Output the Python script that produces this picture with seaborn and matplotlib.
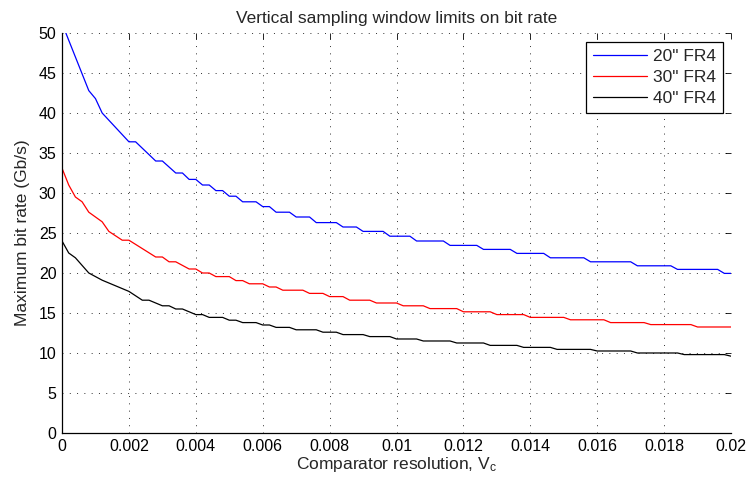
import matplotlib
matplotlib.use("Agg")
import matplotlib.pyplot as plt
import seaborn as sns
import pandas as pd

# Vertices of each bit-rate curve (comparator resolution in V, bit rate in Gb/s)
fr4_20_x = [0, 0.0008, 0.001, 0.0012, 0.002, 0.0022, 0.0028, 0.003, 0.0034, 0.0036,
            0.0038, 0.004, 0.0042, 0.0044, 0.0046, 0.0048, 0.005, 0.0052, 0.0054, 0.0058,
            0.006, 0.0062, 0.0064, 0.0068, 0.007, 0.0074, 0.0076, 0.0082, 0.0084, 0.0088,
            0.009, 0.0096, 0.0098, 0.0104, 0.0106, 0.0114, 0.0116, 0.0124, 0.0126, 0.0134,
            0.0136, 0.0144, 0.0146, 0.0156, 0.0158, 0.017, 0.0172, 0.0182, 0.0184, 0.0196,
            0.0198, 0.02]
fr4_20_y = [51.2, 42.8, 41.8, 40.0, 36.4, 36.4, 34.0, 34.0, 32.5, 32.5,
            31.7, 31.7, 31.0, 31.0, 30.3, 30.3, 29.6, 29.6, 28.9, 28.9,
            28.3, 28.3, 27.6, 27.6, 27.0, 27.0, 26.3, 26.3, 25.75, 25.75,
            25.2, 25.2, 24.6, 24.6, 24.0, 24.0, 23.45, 23.45, 22.95, 22.95,
            22.45, 22.45, 21.9, 21.9, 21.4, 21.4, 20.9, 20.9, 20.45, 20.45,
            19.95, 19.95]

fr4_30_x = [0, 0.0002, 0.0004, 0.0006, 0.0008, 0.0012, 0.0014, 0.0018, 0.002, 0.0028,
            0.003, 0.0032, 0.0034, 0.0038, 0.004, 0.0042, 0.0044, 0.0046, 0.005, 0.0052,
            0.0054, 0.0056, 0.006, 0.0062, 0.0064, 0.0066, 0.0072, 0.0074, 0.0078, 0.008,
            0.0084, 0.0086, 0.0092, 0.0094, 0.01, 0.0102, 0.0108, 0.011, 0.0118, 0.012,
            0.0128, 0.013, 0.0138, 0.014, 0.015, 0.0152, 0.0162, 0.0164, 0.0174, 0.0176,
            0.0188, 0.019, 0.02]
fr4_30_y = [33.1, 31.0, 29.5, 28.9, 27.6, 26.4, 25.2, 24.1, 24.1, 22.0,
            22.0, 21.4, 21.4, 20.5, 20.5, 20.0, 20.0, 19.55, 19.55, 19.05,
            19.05, 18.65, 18.65, 18.25, 18.25, 17.85, 17.85, 17.45, 17.45, 17.05,
            17.05, 16.6, 16.6, 16.25, 16.25, 15.9, 15.9, 15.55, 15.55, 15.15,
            15.15, 14.8, 14.8, 14.45, 14.45, 14.15, 14.15, 13.8, 13.8, 13.55,
            13.55, 13.25, 13.25]

fr4_40_x = [0, 0.0002, 0.0004, 0.0008, 0.0012, 0.002, 0.0024, 0.0026, 0.003, 0.0032,
            0.0034, 0.0036, 0.004, 0.0042, 0.0044, 0.0048, 0.005, 0.0052, 0.0054, 0.0058,
            0.006, 0.0062, 0.0064, 0.0068, 0.007, 0.0076, 0.0078, 0.0082, 0.0084, 0.009,
            0.0092, 0.0098, 0.01, 0.0106, 0.0108, 0.0116, 0.0118, 0.0126, 0.0128, 0.0136,
            0.0138, 0.0146, 0.0148, 0.0158, 0.016, 0.017, 0.0172, 0.0184, 0.0186, 0.0198,
            0.02]
fr4_40_y = [24.0, 22.5, 21.9, 20.0, 19.1, 17.7, 16.6, 16.6, 15.9, 15.9,
            15.5, 15.5, 14.8, 14.8, 14.45, 14.45, 14.1, 14.1, 13.8, 13.8,
            13.5, 13.5, 13.2, 13.2, 12.9, 12.9, 12.6, 12.6, 12.3, 12.3,
            12.05, 12.05, 11.75, 11.75, 11.5, 11.5, 11.25, 11.25, 10.95, 10.95,
            10.7, 10.7, 10.45, 10.45, 10.25, 10.25, 10.0, 10.0, 9.8, 9.8,
            9.6]

series_names = ['20" FR4', '30" FR4', '40" FR4']
series_colors = ["#0000ff", "#ff0000", "#000000"]

x_ticks = [0, 0.002, 0.004, 0.006, 0.008, 0.01, 0.012, 0.014, 0.016, 0.018, 0.02]
x_tick_labels = ["0", "0.002", "0.004", "0.006", "0.008", "0.01", "0.012",
                 "0.014", "0.016", "0.018", "0.02"]
y_ticks = [0, 5, 10, 15, 20, 25, 30, 35, 40, 45, 50]

frames = []
for name, xs, ys in zip(series_names,
                        [fr4_20_x, fr4_30_x, fr4_40_x],
                        [fr4_20_y, fr4_30_y, fr4_40_y]):
    frames.append(pd.DataFrame({"vc": xs, "rate": ys, "line": name}))
df = pd.concat(frames, ignore_index=True)

sns.set_style("white")
plt.rcParams["font.family"] = ["Liberation Sans", "DejaVu Sans"]
plt.rcParams["mathtext.default"] = "regular"

fig = plt.figure(figsize=(7.5, 4.82), dpi=100)
ax = fig.add_axes([0.0827, 0.1017, 0.892, 0.8298])

sns.lineplot(data=df, x="vc", y="rate", hue="line", hue_order=series_names,
             palette=dict(zip(series_names, series_colors)),
             estimator=None, sort=False, linewidth=0.9, ax=ax)

ax.set_xlim(0, 0.02)
ax.set_ylim(0, 50)
ax.set_xticks(x_ticks)
ax.set_xticklabels(x_tick_labels)
ax.set_yticks(y_ticks)

ax.grid(True, color="#303030", linestyle=(0, (1, 6.5)), linewidth=0.7)
for side in ("top", "right"):
    ax.spines[side].set_visible(False)
for side in ("left", "bottom"):
    ax.spines[side].set_color("black")
    ax.spines[side].set_linewidth(0.9)
ax.tick_params(direction="in", length=4, width=0.6, colors="black",
               labelsize=11.5, top=True, right=True, pad=4)

ax.set_title("Vertical sampling window limits on bit rate", fontsize=12.5, pad=7)
ax.set_xlabel(r"Comparator resolution, $V_c$", fontsize=12.5, labelpad=1)
ax.set_ylabel("Maximum bit rate (Gb/s)", fontsize=12.5, labelpad=6)

leg = ax.legend(loc="upper right", bbox_to_anchor=(0.988, 0.978), borderaxespad=0,
                fontsize=12.5, frameon=True, fancybox=False, framealpha=1,
                edgecolor="black", handlelength=3.1, handletextpad=0.35,
                borderpad=0.42, labelspacing=0.33)
leg.get_frame().set_linewidth(0.9)

fig.savefig("out.png", dpi=100)
